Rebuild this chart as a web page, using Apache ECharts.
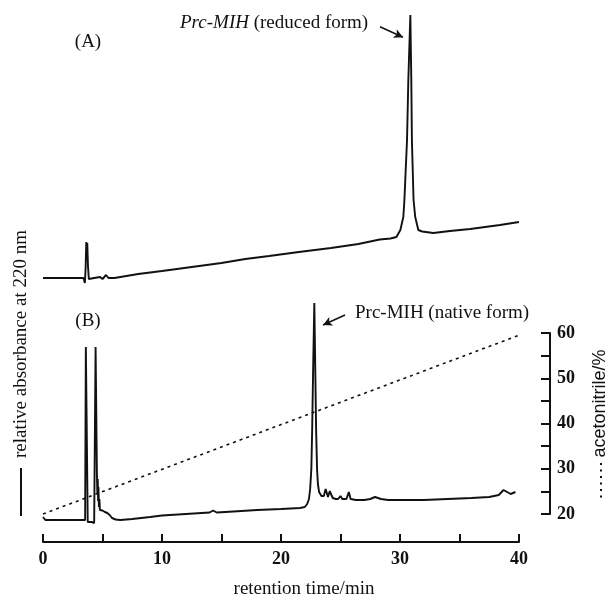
<!DOCTYPE html>
<html><head><meta charset="utf-8">
<script src="https://cdn.jsdelivr.net/npm/echarts@6/dist/echarts.min.js"></script>
<style>html,body{margin:0;padding:0;background:#fff}#c{width:610px;height:597px}</style>
</head><body><div id="c"></div>
<script>
// ---- data ----
// Trace (A): reduced form, relative absorbance (arbitrary units)
const timeA = [0, 3.4, 3.52, 3.58, 3.64, 3.68, 3.72, 3.78, 3.85, 4.0, 4.3, 4.8, 5.0, 5.3, 5.5, 6.0, 6.5, 8, 10, 12.5, 15, 17, 19, 21.5, 24.2, 26.5, 28.3, 29.2, 29.7, 30.03, 30.28, 30.37, 30.59, 30.7, 30.87, 30.95, 31.0, 31.14, 31.28, 31.54, 31.87, 32.8, 34.2, 35.9, 38.4, 40];
const absA  = [0, 0, -0.05, 0.1, 0.36, 0.3, 0.35, 0.12, -0.01, -0.02, 0.0, 0.01, -0.01, 0.03, 0.0, 0.0, 0.01, 0.04, 0.07, 0.11, 0.15, 0.19, 0.22, 0.26, 0.30, 0.34, 0.385, 0.395, 0.41, 0.48, 0.61, 0.78, 1.38, 1.98, 2.63, 1.98, 1.38, 0.78, 0.61, 0.48, 0.465, 0.45, 0.47, 0.49, 0.53, 0.56];
// Trace (B): native form
const timeB = [0, 0.2, 1.5, 3.0, 3.54, 3.6, 3.7, 3.76, 3.9, 4.1, 4.3, 4.38, 4.42, 4.48, 4.53, 4.57, 4.6, 4.63, 4.66, 4.7, 4.74, 4.78, 4.9, 5.0, 5.2, 5.4, 5.6, 5.8, 6.1, 6.5, 7.5, 9, 10, 12, 14.0, 14.3, 14.6, 16, 18, 20, 21.6, 22.0, 22.2, 22.35, 22.45, 22.55, 22.62, 22.7, 22.8, 22.88, 22.95, 23.03, 23.1, 23.2, 23.4, 23.6, 23.75, 23.85, 23.95, 24.1, 24.2, 24.35, 24.6, 24.8, 25.0, 25.15, 25.5, 25.7, 25.85, 26.3, 27.0, 27.5, 27.9, 28.4, 29.0, 30.5, 32, 34, 36, 37.5, 38.3, 38.7, 39.0, 39.3, 39.7];
const absB  = [0.02, -0.01, -0.01, -0.01, -0.01, 1.72, 1.72, -0.03, -0.03, -0.03, -0.04, -0.05, 1.72, 1.72, 0.45, 0.25, 0.40, 0.18, 0.32, 0.12, 0.2, 0.09, 0.08, 0.085, 0.07, 0.06, 0.04, 0.01, -0.005, -0.01, 0.0, 0.02, 0.035, 0.05, 0.065, 0.085, 0.065, 0.075, 0.09, 0.10, 0.11, 0.12, 0.15, 0.2, 0.3, 0.5, 0.9, 1.5, 2.16, 1.5, 0.9, 0.5, 0.35, 0.27, 0.23, 0.23, 0.3, 0.28, 0.22, 0.28, 0.25, 0.21, 0.20, 0.20, 0.23, 0.20, 0.20, 0.27, 0.20, 0.19, 0.19, 0.20, 0.22, 0.20, 0.19, 0.19, 0.19, 0.20, 0.21, 0.22, 0.24, 0.29, 0.27, 0.25, 0.27];
// Acetonitrile gradient
const acnTime = [0, 40.5];
const acnPct  = [20, 60];
// Tick labels
const xTickLabels = [0, 10, 20, 30, 40];
const acnTickLabels = [20, 30, 40, 50, 60];
// Annotation arrows (data coordinates: [time, value])
const arrowA = [[28.32, 2.513], [30.25, 2.407]];
const arrowB = [[25.38, 2.04], [23.53, 1.94]];

// ---- chart ----
const zip = (xs, ys) => xs.map((x, i) => [x, ys[i]]);
const SERIF = '"Liberation Serif", "Times New Roman", serif';
const SANS = '"Liberation Sans", Arial, sans-serif';
const ink = '#111';
const L = 43, R = 91;

const chart = echarts.init(document.getElementById('c'), null, {renderer: 'canvas'});

const arrowMark = (pts) => ({
  silent: true,
  symbol: ['none', 'arrow'],
  symbolSize: [7, 9],
  label: {show: false},
  lineStyle: {color: ink, width: 1.5, type: 'solid'},
  emphasis: {disabled: true},
  data: [[{coord: pts[0]}, {coord: pts[1]}]]
});

const gridBase = {left: L, right: R, containLabel: false, outerBoundsMode: 'none'};

const option = {
  animation: false,
  backgroundColor: '#fff',
  grid: [
    Object.assign({top: 8, bottom: 299}, gridBase),
    Object.assign({top: 289, bottom: 55}, gridBase),
    Object.assign({top: 333, bottom: 83}, gridBase)
  ],
  xAxis: [
    {gridIndex: 0, type: 'value', min: 0, max: 40, show: false},
    {
      gridIndex: 1, type: 'value', min: 0, max: 40, interval: 5,
      axisLine: {show: true, onZero: false, lineStyle: {color: ink, width: 2}},
      axisTick: {show: true, inside: true, length: 8, lineStyle: {color: ink, width: 2}},
      axisLabel: {
        formatter: v => xTickLabels.includes(v) ? String(v) : '',
        margin: 8, color: ink, fontFamily: SERIF, fontSize: 18, fontWeight: 'bold'
      },
      splitLine: {show: false},
      name: 'retention time/min', nameLocation: 'middle', nameGap: 38,
      nameTextStyle: {color: ink, fontFamily: SERIF, fontSize: 19, padding: [0, 0, 0, 46]}
    },
    {gridIndex: 2, type: 'value', min: 0, max: 40, show: false}
  ],
  yAxis: [
    {gridIndex: 0, type: 'value', min: -0.2, max: 2.7, show: false},
    {gridIndex: 1, type: 'value', min: -0.23, max: 2.30, show: false},
    {
      gridIndex: 2, type: 'value', position: 'right', offset: 31,
      min: 20, max: 60, interval: 5,
      axisLine: {show: true, onZero: false, lineStyle: {color: ink, width: 2}},
      axisTick: {show: true, inside: true, length: 9, lineStyle: {color: ink, width: 2}},
      axisLabel: {
        formatter: v => acnTickLabels.includes(v) ? String(v) : '',
        margin: 7, color: ink, fontFamily: SERIF, fontSize: 18, fontWeight: 'bold'
      },
      splitLine: {show: false},
      name: 'acetonitrile/%', nameLocation: 'middle', nameRotate: 90, nameGap: 50,
      nameTextStyle: {color: ink, fontFamily: SANS, fontSize: 18, align: 'center', verticalAlign: 'middle', padding: [0, 0, 0, 40]}
    }
  ],
  series: [
    {
      name: 'A', type: 'line', xAxisIndex: 0, yAxisIndex: 0,
      data: zip(timeA, absA), showSymbol: false, symbol: 'none',
      lineStyle: {color: ink, width: 1.9}, z: 3,
      markLine: arrowMark(arrowA)
    },
    {
      name: 'B', type: 'line', xAxisIndex: 1, yAxisIndex: 1,
      data: zip(timeB, absB), showSymbol: false, symbol: 'none',
      lineStyle: {color: ink, width: 1.9}, z: 3,
      markLine: arrowMark(arrowB)
    },
    {
      name: 'acetonitrile', type: 'line', xAxisIndex: 2, yAxisIndex: 2,
      data: zip(acnTime, acnPct), showSymbol: false, symbol: 'none', clip: false,
      lineStyle: {color: ink, width: 1.6, type: [3, 4]}, z: 2
    }
  ],
  graphic: [
    {type: 'text', x: 88, y: 42, style: {text: '(A)', fill: ink, font: '19px ' + SERIF, align: 'center', verticalAlign: 'middle'}},
    {type: 'text', x: 88, y: 321, style: {text: '(B)', fill: ink, font: '19px ' + SERIF, align: 'center', verticalAlign: 'middle'}},
    {type: 'text', x: 180, y: 23, style: {
      text: '{i|Prc-MIH} (reduced form)', fill: ink, font: '19px ' + SERIF, align: 'left', verticalAlign: 'middle',
      rich: {i: {fontStyle: 'italic', fontFamily: SERIF, fontSize: 19, fill: ink}}
    }},
    {type: 'text', x: 355, y: 313, style: {text: 'Prc-MIH (native form)', fill: ink, font: '19px ' + SERIF, align: 'left', verticalAlign: 'middle'}},
    {type: 'text', x: 21, y: 344, rotation: Math.PI / 2, style: {text: 'relative absorbance at 220 nm', fill: ink, font: '19px ' + SERIF, align: 'center', verticalAlign: 'middle'}},
    {type: 'line', shape: {x1: 21, y1: 468, x2: 21, y2: 516}, style: {stroke: ink, lineWidth: 2}},
    {type: 'line', shape: {x1: 601, y1: 463, x2: 601, y2: 499}, style: {stroke: ink, lineWidth: 2, lineDash: [2, 4.5]}}
  ]
};
chart.setOption(option);
</script>
</body></html>
